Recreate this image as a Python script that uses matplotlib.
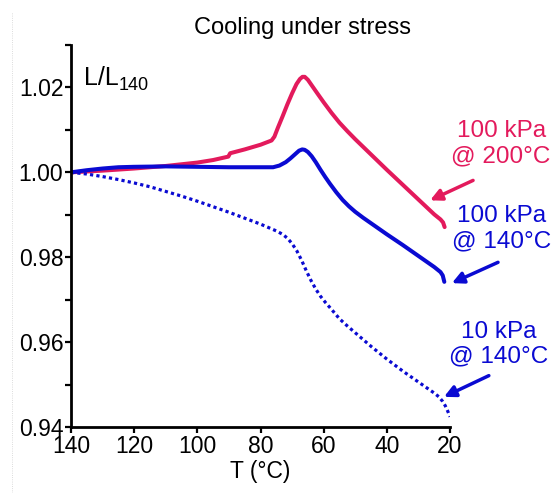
import numpy as np
import matplotlib
matplotlib.use("Agg")
import matplotlib.pyplot as plt
from matplotlib.lines import Line2D
from matplotlib.ticker import MultipleLocator

plt.rcParams["font.family"] = ["Liberation Sans", "DejaVu Sans"]

RED = "#e31a5c"
BLUE = "#0a0ad2"

# 100 kPa @ 200°C
t_red = [140, 130, 120, 110, 100, 95, 90.2, 89.6, 85, 80, 76.5, 75.6, 74.5,
         73, 71.5, 70, 68.6, 67.5, 66.7, 66.0, 65.0, 63.5, 62, 60, 57.5, 55,
         52.5, 50, 45, 40, 35, 30, 25, 23.0, 22.2, 21.7]
l_red = [1.0000, 1.0004, 1.0009, 1.0015, 1.0023, 1.0029, 1.0037, 1.0045, 1.0054,
         1.0065, 1.0075, 1.0084, 1.0105, 1.0132, 1.0160, 1.0186, 1.0208, 1.0220,
         1.0225, 1.0225, 1.0218, 1.0202, 1.0186, 1.0165, 1.0140, 1.0117, 1.0097,
         1.0078, 1.0042, 1.0006, 0.9971, 0.9936, 0.9901, 0.9889, 0.9882, 0.9871]

# 100 kPa @ 140°C
t_blue = [140, 135, 130, 125, 120, 110, 100, 90, 80, 76, 74, 72, 70.5, 69, 67.8,
          66.8, 66.0, 65.0, 63.8, 62.5, 61, 59.5, 58, 56, 54, 52, 50, 47.5, 45,
          40, 35, 30, 25, 23.0, 22.3, 21.8]
l_blue = [1.0000, 1.0005, 1.0009, 1.0012, 1.0013, 1.0014, 1.0013, 1.0012, 1.0012,
          1.0012, 1.0016, 1.0024, 1.0033, 1.0043, 1.0051, 1.0054, 1.0053, 1.0048,
          1.0038, 1.0024, 1.0006, 0.9989, 0.9973, 0.9953, 0.9935, 0.9920, 0.9907,
          0.9893, 0.9880, 0.9854, 0.9829, 0.9803, 0.9777, 0.9765, 0.9757, 0.9742]

# 10 kPa @ 140°C
t_dot = [140, 135, 130, 125, 120, 115, 110, 105, 100, 95, 90, 85, 80, 77.5, 75,
         73, 71.5, 70, 68.5, 67, 65.5, 64, 62.5, 61, 59.5, 57.5, 55, 52.5, 50,
         47.5, 45, 42.5, 40, 37.5, 35, 32.5, 30, 27.5, 25, 23.5, 22.3, 21.5,
         20.7, 20.0]
l_dot = [1.0000, 0.9996, 0.9990, 0.9983, 0.9975, 0.9966, 0.9955, 0.9944, 0.9932,
         0.9919, 0.9906, 0.9892, 0.9878, 0.9870, 0.9862, 0.9854, 0.9845, 0.9832,
         0.9815, 0.9793, 0.9768, 0.9745, 0.9725, 0.9708, 0.9694, 0.9677, 0.9655,
         0.9638, 0.9622, 0.9606, 0.9590, 0.9575, 0.9560, 0.9546, 0.9532, 0.9519,
         0.9506, 0.9493, 0.9480, 0.9471, 0.9460, 0.9450, 0.9437, 0.9424]

fig = plt.figure(figsize=(5.58, 4.93), dpi=100)
ax = fig.add_axes([71 / 558, 1 - 427 / 493, 379 / 558, 382 / 493])

ax.plot(t_red, l_red, color=RED, lw=2.9, solid_capstyle="round", solid_joinstyle="round")
ax.plot(t_blue, l_blue, color=BLUE, lw=2.9, solid_capstyle="round", solid_joinstyle="round")
ax.plot(t_dot, l_dot, color=BLUE, lw=2.3, linestyle=(0, (1, 1.0)), dash_capstyle="butt")

ax.set_xlim(140, 20)
ax.set_ylim(0.94, 1.03)
ax.xaxis.set_major_locator(MultipleLocator(20))
ax.yaxis.set_minor_locator(MultipleLocator(0.01))
ax.set_yticks([0.94, 0.96, 0.98, 1.00, 1.02])
ax.set_yticklabels(["0.94", "0.96", "0.98", "1.00", "1.02"])

for s in ["top", "right"]:
    ax.spines[s].set_visible(False)
for s in ["left", "bottom"]:
    ax.spines[s].set_linewidth(2.0)
ax.tick_params(axis="both", which="major", length=4.5, width=1.6, labelsize=16.5, pad=1)
ax.tick_params(axis="y", which="minor", length=4.5, width=1.6)

ax.set_xlabel("T (°C)", fontsize=16.5, labelpad=2)
fig.text(84 / 558, 1 - 85 / 493, "L/L", fontsize=18, ha="left", va="baseline")
fig.text(119 / 558, 1 - 90 / 493, "140", fontsize=13, ha="left", va="baseline")
fig.text(303 / 558, 1 - 28 / 493, "Cooling under stress", fontsize=17, ha="center", va="center")

# labels with arrows
ax.text(3.8, 1.0068, "100 kPa\n@ 200°C", color=RED, fontsize=17.5, ha="center",
        va="center", linespacing=1.2, clip_on=False)
ax.text(3.8, 0.9868, "100 kPa\n@ 140°C", color=BLUE, fontsize=17.5, ha="center",
        va="center", linespacing=1.2, clip_on=False)
ax.text(4.5, 0.9595, "10 kPa\n@ 140°C", color=BLUE, fontsize=17.5, ha="center",
        va="center", linespacing=1.2, clip_on=False)

arrow = dict(arrowstyle="-|>", lw=2.5, mutation_scale=17, shrinkA=0, shrinkB=0)
ax.annotate("", xy=(26.3, 0.9934), xytext=(12.7, 0.9981),
            arrowprops=dict(arrow, color=RED), annotation_clip=False)
ax.annotate("", xy=(19.4, 0.9739), xytext=(4.8, 0.9788),
            arrowprops=dict(arrow, color=BLUE), annotation_clip=False)
ax.annotate("", xy=(21.9, 0.9471), xytext=(7.7, 0.9521),
            arrowprops=dict(arrow, color=BLUE), annotation_clip=False)

# faint page edge on the left
fig.add_artist(Line2D([12 / 558, 12 / 558], [0, 1 - 12 / 493], color="#d0d0d0",
                      lw=0.6, linestyle=":"))

fig.savefig("out.png", dpi=100)
